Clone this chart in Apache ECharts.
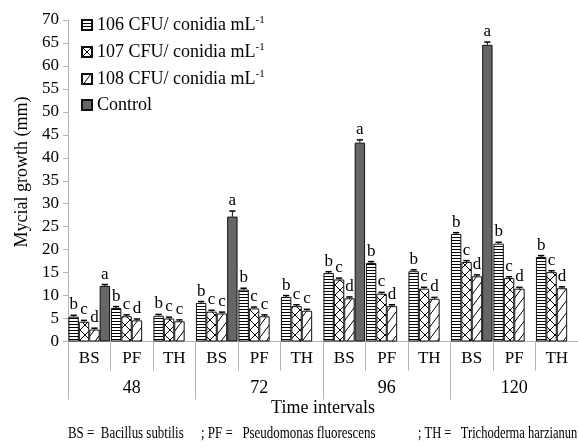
<!DOCTYPE html>
<html>
<head>
<meta charset="utf-8">
<script src="https://cdn.jsdelivr.net/npm/echarts@6/dist/echarts.min.js"></script>
<style>html,body{margin:0;padding:0;background:#fff}#c{width:578px;height:447px}</style>
</head>
<body>
<div id="c"></div>
<script>
// ---- data ----
var categories = ['BS','PF','TH','BS','PF','TH','BS','PF','TH','BS','PF','TH'];
var timeGroups = ['48','72','96','120'];
var seriesNames = ['106 CFU/ conidia mL','107 CFU/ conidia mL','108 CFU/ conidia mL','Control'];
var v6 = [5.4, 7.3, 5.6, 8.4, 11.3, 9.7, 14.9, 17.1, 15.3, 23.4, 21.3, 18.4];
var v7 = [4.3, 5.5, 5.0, 6.5, 7.2, 7.7, 13.5, 10.4, 11.5, 17.3, 13.8, 15.1];
var v8 = [2.6, 4.6, 4.4, 6.1, 5.5, 6.7, 9.4, 7.7, 9.3, 14.2, 11.5, 11.6];
var vC = [12.1, null, null, 27.2, null, null, 43.3, null, null, 64.6, null, null];
var e6 = [0.3, 0.3, 0.3, 0.3, 0.3, 0.3, 0.3, 0.3, 0.3, 0.3, 0.3, 0.3];
var e7 = [0.3, 0.3, 0.3, 0.3, 0.3, 0.3, 0.3, 0.3, 0.3, 0.3, 0.3, 0.3];
var e8 = [0.3, 0.3, 0.3, 0.3, 0.3, 0.3, 0.3, 0.3, 0.3, 0.3, 0.3, 0.3];
var eC = [0.3, null, null, 1.2, null, null, 0.6, null, null, 0.6, null, null];
var l6 = ['b','b','b','b','b','b','b','b','b','b','b','b'];
var l7 = ['c','c','c','c','c','c','c','c','c','c','c','c'];
var l8 = ['d','d','c','c','c','c','d','d','d','d','d','d'];
var lC = ['a','','','a','','','a','','','a','',''];
var yTicks = {min: 0, max: 70, interval: 5};

var values = [v6, v7, v8, vC];
var errs = [e6, e7, e8, eC];
var letters = [l6, l7, l8, lC];

// ---- patterns ----
function mk(w, h, draw) {
  var c = document.createElement('canvas');
  c.width = w; c.height = h;
  var g = c.getContext('2d');
  g.fillStyle = '#fff'; g.fillRect(0, 0, w, h);
  g.strokeStyle = '#000'; g.lineWidth = 1;
  draw(g);
  return {image: c, repeat: 'repeat'};
}
var pat6 = mk(4, 3, function (g) { g.fillStyle = '#000'; g.fillRect(0, 0, 4, 1); });
var pat7 = mk(10, 10, function (g) {
  g.beginPath(); g.moveTo(0, 0); g.lineTo(10, 10); g.moveTo(10, 0); g.lineTo(0, 10); g.stroke();
});
var pat8 = mk(9, 12, function (g) {
  g.beginPath(); g.moveTo(0, 12); g.lineTo(9, 0); g.stroke();
});
var fills = [pat6, pat7, pat8, '#666666'];

var GAP = 0.02;
var serif = 'Liberation Serif, Times New Roman, serif';
var axisGray = '#b5b5b5';

var series = [];
for (var k = 0; k < 4; k++) {
  series.push({
    name: seriesNames[k],
    type: 'bar',
    xAxisIndex: 0,
    barGap: '0%',
    barCategoryGap: (GAP * 100) + '%',
    itemStyle: {color: fills[k], borderColor: '#111', borderWidth: 1},
    data: values[k].map(function (v) { return v == null ? '-' : v; }),
    animation: false
  });
}
for (var k2 = 0; k2 < 4; k2++) {
  (function (k) {
    series.push({
      type: 'custom',
      xAxisIndex: 0,
      z: 5,
      silent: true,
      animation: false,
      encode: {x: 0, y: 1},
      data: values[k].map(function (v, i) { return [i, v == null ? NaN : v]; }),
      renderItem: function (params, api) {
        var i = api.value(0), v = api.value(1);
        if (isNaN(v)) return null;
        var di = params.dataIndex;
        var err = errs[k][di] || 0;
        var band = api.size([1, 0])[0];
        var w = band * (1 - GAP) / 4;
        var c = api.coord([i, v]);
        var x = c[0] - 2 * w + w * (k + 0.5);
        var top = api.coord([i, v + err])[1];
        var cw = w * 0.6;
        return {
          type: 'group',
          children: [
            {type: 'line', shape: {x1: x, y1: c[1], x2: x, y2: top}, style: {stroke: '#000', lineWidth: 1}},
            {type: 'line', shape: {x1: x - cw / 2, y1: top, x2: x + cw / 2, y2: top}, style: {stroke: '#000', lineWidth: 1.5}},
            {type: 'text', style: {text: letters[k][di], x: x, y: top - 2, align: 'center', verticalAlign: 'bottom',
              font: '17px ' + serif, fill: '#000'}}
          ]
        };
      }
    });
  })(k2);
}

var chart = echarts.init(document.getElementById('c'), null, {renderer: 'canvas'});
chart.setOption({
  animation: false,
  backgroundColor: '#fff',
  grid: {left: 68, right: 0, top: 20, bottom: 105.5, containLabel: false},
  legend: {
    data: seriesNames,
    orient: 'vertical',
    left: 76, top: 10,
    itemWidth: 10, itemHeight: 10, itemGap: 8,
    icon: 'rect',
    formatter: function (n) { return n === 'Control' ? n : n + '{sup|-1}'; },
    textStyle: {fontFamily: serif, fontSize: 18, color: '#000',
      rich: {sup: {fontFamily: serif, fontSize: 11, color: '#000', verticalAlign: 'top', padding: [0, 0, 9, 0]}}}
  },
  xAxis: [
    {
      type: 'category', data: categories, position: 'bottom', gridIndex: 0,
      axisLine: {lineStyle: {color: axisGray}},
      axisTick: {show: true, interval: 0, length: 29, lineStyle: {color: axisGray}},
      axisLabel: {interval: 0, margin: 9, fontFamily: serif, fontSize: 17, color: '#000'}
    },
    {
      type: 'category', data: timeGroups, position: 'bottom', gridIndex: 0,
      axisLine: {show: false},
      axisTick: {show: true, interval: 0, length: 58, lineStyle: {color: axisGray}},
      axisLabel: {interval: 0, margin: 38, fontFamily: serif, fontSize: 18, color: '#000'}
    }
  ],
  yAxis: {
    type: 'value', min: yTicks.min, max: yTicks.max, interval: yTicks.interval,
    axisLine: {show: true, lineStyle: {color: axisGray}},
    axisTick: {show: true, length: 5, lineStyle: {color: axisGray}},
    splitLine: {show: false},
    axisLabel: {margin: 9, fontFamily: serif, fontSize: 17, color: '#000'}
  },
  graphic: [
    {type: 'text', x: 22, y: 172, rotation: Math.PI / 2,
      style: {text: 'Mycial growth (mm)', font: '18px ' + serif, fill: '#000', align: 'center', verticalAlign: 'middle'}},
    {type: 'text', x: 323, y: 408,
      style: {text: 'Time intervals', font: '18px ' + serif, fill: '#000', align: 'center', verticalAlign: 'middle'}},
    {type: 'text', x: 68, y: 434, scaleX: 0.76,
      style: {text: 'BS =  Bacillus subtilis', font: '17px ' + serif, fill: '#000', align: 'left', verticalAlign: 'middle'}},
    {type: 'text', x: 201, y: 434, scaleX: 0.76,
      style: {text: '; PF =   Pseudomonas fluorescens', font: '17px ' + serif, fill: '#000', align: 'left', verticalAlign: 'middle'}},
    {type: 'text', x: 418, y: 434, scaleX: 0.735,
      style: {text: '; TH =   Trichoderma harzianun', font: '17px ' + serif, fill: '#000', align: 'left', verticalAlign: 'middle'}}
  ],
  series: series
});
</script>
</body>
</html>
